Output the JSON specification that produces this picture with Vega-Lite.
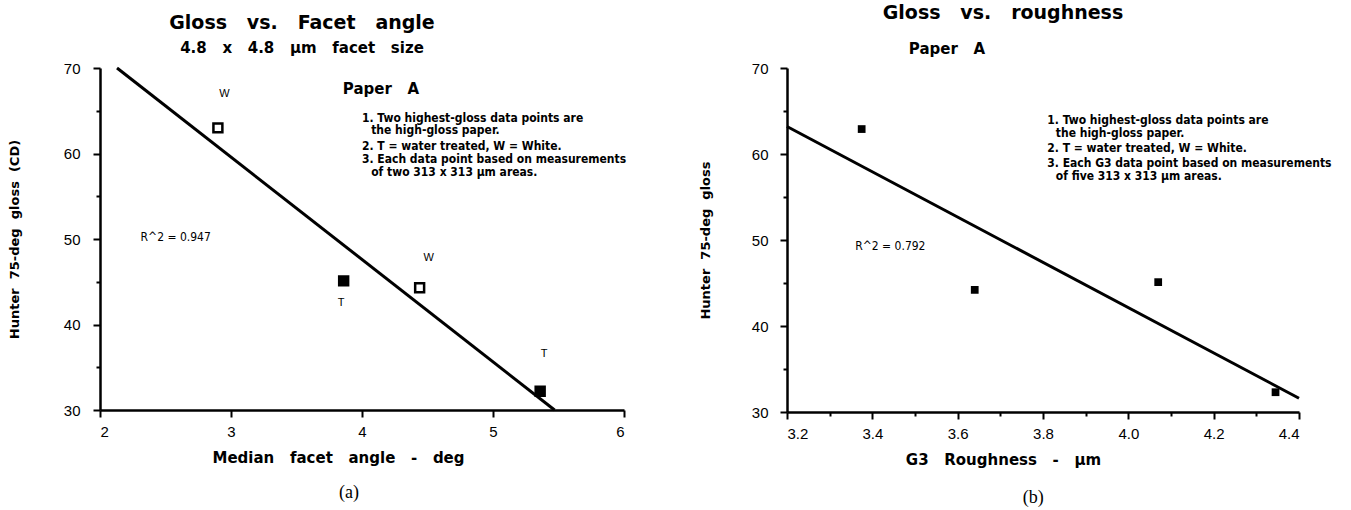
{
  "$schema": "https://vega.github.io/schema/vega-lite/v6.json",
  "background": "white",
  "padding": {"left": 8, "top": 4, "right": 5, "bottom": 5},
  "bounds": "flush",
  "spacing": 163,
  "datasets": {
    "ptsA": [
      {"angle": 2.9, "gloss": 63.0, "type": "W"},
      {"angle": 3.86, "gloss": 45.1, "type": "T"},
      {"angle": 4.44, "gloss": 44.3, "type": "W"},
      {"angle": 5.36, "gloss": 32.2, "type": "T"}
    ],
    "fitA": [
      {"angle": 2.13, "gloss": 70.0},
      {"angle": 5.47, "gloss": 30.0}
    ],
    "lblA": [
      {"angle": 2.95, "gloss": 67.0, "text": "W"},
      {"angle": 3.84, "gloss": 42.5, "text": "T"},
      {"angle": 4.51, "gloss": 47.8, "text": "W"},
      {"angle": 5.39, "gloss": 36.5, "text": "T"}
    ],
    "notesA": [
      {"angle": 4.0, "gloss": 64.2, "text": "1. Two highest-gloss data points are"},
      {"angle": 4.07, "gloss": 62.7, "text": "the high-gloss paper."},
      {"angle": 4.0, "gloss": 60.9, "text": "2. T = water treated, W = White."},
      {"angle": 4.0, "gloss": 59.3, "text": "3. Each data point based on measurements"},
      {"angle": 4.07, "gloss": 57.8, "text": "of two 313 x 313 μm areas."}
    ],
    "paperA": [{"angle": 4.145, "gloss": 67.6, "text": "Paper\u00a0\u00a0 A"}],
    "r2A": [{"angle": 2.31, "gloss": 50.2, "text": "R^2 = 0.947"}],
    "capA": [{"angle": 3.9, "gloss": 20.3, "text": "(a)"}],
    "ptsB": [
      {"rough": 3.375, "gloss": 62.9},
      {"rough": 3.64, "gloss": 44.2},
      {"rough": 4.07, "gloss": 45.1},
      {"rough": 4.345, "gloss": 32.3}
    ],
    "fitB": [
      {"rough": 3.2, "gloss": 63.2},
      {"rough": 4.4, "gloss": 31.6}
    ],
    "notesB": [
      {"rough": 3.81, "gloss": 64.0, "text": "1. Two highest-gloss data points are"},
      {"rough": 3.83, "gloss": 62.4, "text": "the high-gloss paper."},
      {"rough": 3.81, "gloss": 60.7, "text": "2. T = water treated, W = White."},
      {"rough": 3.81, "gloss": 59.0, "text": "3. Each G3 data point based on measurements"},
      {"rough": 3.83, "gloss": 57.4, "text": "of five 313 x 313 μm areas."}
    ],
    "paperB": [{"rough": 3.575, "gloss": 72.2, "text": "Paper\u00a0\u00a0 A"}],
    "r2B": [{"rough": 3.36, "gloss": 49.3, "text": "R^2 = 0.792"}],
    "capB": [{"rough": 3.777, "gloss": 20.0, "text": "(b)"}]
  },
  "config": {
    "view": {"stroke": null},
    "title": {
      "font": "DejaVu Sans",
      "fontWeight": "bold",
      "fontSize": 19,
      "color": "black",
      "subtitleFont": "DejaVu Sans",
      "subtitleFontWeight": "bold",
      "subtitleFontSize": 15,
      "subtitleColor": "black",
      "subtitlePadding": 8
    }
  },
  "hconcat": [
    {
      "width": 524,
      "height": 342,
      "title": {
        "text": "Gloss\u00a0\u00a0 vs.\u00a0\u00a0 Facet\u00a0\u00a0 angle",
        "subtitle": "4.8\u00a0\u00a0 x\u00a0\u00a0 4.8\u00a0\u00a0 μm\u00a0\u00a0 facet\u00a0\u00a0 size",
        "dx": -60,
        "offset": 5
      },
      "layer": [
        {
          "data": {"name": "fitA"},
          "mark": {"type": "line", "color": "black", "strokeWidth": 3},
          "encoding": {
            "x": {
              "field": "angle", "type": "quantitative",
              "scale": {"domain": [2, 6], "nice": false, "zero": false},
              "axis": {
                "title": "Median\u00a0\u00a0 facet\u00a0\u00a0 angle\u00a0\u00a0 -\u00a0\u00a0 deg",
                "values": [2, 2.5, 3, 3.5, 4, 4.5, 5, 5.5, 6],
                "format": "d",
                "labelExpr": "datum.value % 1 === 0 ? datum.label : ''",
                "domain": true, "domainColor": "black", "domainWidth": 2.5,
                "ticks": true, "tickColor": "black", "tickWidth": 2,
                "tickSize": {"condition": {"test": "datum.value % 1 !== 0", "value": 4}, "value": 7},
                "grid": false,
                "labelFont": "Liberation Sans", "labelFontSize": 15, "labelColor": "black",
                "labelPadding": 7,
                "titleFont": "DejaVu Sans", "titleFontWeight": "bold", "titleFontSize": 15, "titleColor": "black",
                "titlePadding": 11,
                "titleX": 238
              }
            },
            "y": {
              "field": "gloss", "type": "quantitative",
              "scale": {"domain": [30, 70], "nice": false, "zero": false},
              "axis": {
                "title": "Hunter\u00a0 75-deg\u00a0 gloss\u00a0 (CD)",
                "values": [30, 35, 40, 45, 50, 55, 60, 65, 70],
                "format": "d",
                "labelExpr": "datum.value % 10 === 0 ? datum.label : ''",
                "domain": true, "domainColor": "black", "domainWidth": 2.5,
                "ticks": true, "tickColor": "black", "tickWidth": 2,
                "tickSize": {"condition": {"test": "datum.value % 10 !== 0", "value": 4}, "value": 7},
                "grid": false,
                "labelFont": "Liberation Sans", "labelFontSize": 15, "labelColor": "black",
                "labelPadding": 13,
                "titleFont": "DejaVu Sans", "titleFontWeight": "bold", "titleFontSize": 13, "titleColor": "black",
                "titlePadding": 42
              }
            }
          }
        },
        {
          "data": {"name": "ptsA"},
          "mark": {"type": "point", "shape": "square", "filled": true, "size": 80, "stroke": "black", "strokeWidth": 2.5, "opacity": 1},
          "encoding": {
            "x": {"field": "angle", "type": "quantitative"},
            "y": {"field": "gloss", "type": "quantitative"},
            "fill": {"field": "type", "type": "nominal", "scale": {"domain": ["W", "T"], "range": ["white", "black"]}, "legend": null}
          }
        },
        {
          "data": {"name": "lblA"},
          "mark": {"type": "text", "font": "Liberation Sans", "fontSize": 11, "fill": "black"},
          "encoding": {
            "x": {"field": "angle", "type": "quantitative"},
            "y": {"field": "gloss", "type": "quantitative"},
            "text": {"field": "text"}
          }
        },
        {
          "data": {"name": "notesA"},
          "mark": {"type": "text", "font": "DejaVu Sans Condensed, Liberation Sans", "fontSize": 12, "fontWeight": "bold", "align": "left", "fill": "black"},
          "encoding": {
            "x": {"field": "angle", "type": "quantitative"},
            "y": {"field": "gloss", "type": "quantitative"},
            "text": {"field": "text"}
          }
        },
        {
          "data": {"name": "paperA"},
          "mark": {"type": "text", "font": "DejaVu Sans", "fontSize": 15, "fontWeight": "bold", "fill": "black"},
          "encoding": {
            "x": {"field": "angle", "type": "quantitative"},
            "y": {"field": "gloss", "type": "quantitative"},
            "text": {"field": "text"}
          }
        },
        {
          "data": {"name": "r2A"},
          "mark": {"type": "text", "font": "DejaVu Sans Condensed, Liberation Sans", "fontSize": 12, "align": "left", "fill": "black"},
          "encoding": {
            "x": {"field": "angle", "type": "quantitative"},
            "y": {"field": "gloss", "type": "quantitative"},
            "text": {"field": "text"}
          }
        },
        {
          "data": {"name": "capA"},
          "mark": {"type": "text", "font": "Liberation Serif", "fontSize": 18, "fill": "black"},
          "encoding": {
            "x": {"field": "angle", "type": "quantitative"},
            "y": {"field": "gloss", "type": "quantitative"},
            "text": {"field": "text"}
          }
        }
      ]
    },
    {
      "width": 512,
      "height": 344,
      "title": {"text": "Gloss\u00a0\u00a0 vs.\u00a0\u00a0 roughness", "dx": -40, "offset": 19},
      "layer": [
        {
          "data": {"name": "fitB"},
          "mark": {"type": "line", "color": "black", "strokeWidth": 3},
          "encoding": {
            "x": {
              "field": "rough", "type": "quantitative",
              "scale": {"domain": [3.2, 4.4], "nice": false, "zero": false},
              "axis": {
                "title": "G3\u00a0\u00a0 Roughness\u00a0\u00a0 -\u00a0\u00a0 μm",
                "values": [3.2, 3.3, 3.4, 3.5, 3.6, 3.7, 3.8, 3.9, 4.0, 4.1, 4.2, 4.3, 4.4],
                "format": ".1f",
                "labelExpr": "round(datum.value * 10) % 2 === 0 ? datum.label : ''",
                "domain": true, "domainColor": "black", "domainWidth": 2.5,
                "ticks": true, "tickColor": "black", "tickWidth": 2,
                "tickSize": {"condition": {"test": "round(datum.value * 10) % 2 === 1", "value": 4}, "value": 7},
                "grid": false,
                "labelFont": "Liberation Sans", "labelFontSize": 15, "labelColor": "black",
                "labelPadding": 7,
                "titleFont": "DejaVu Sans", "titleFontWeight": "bold", "titleFontSize": 15, "titleColor": "black",
                "titlePadding": 11,
                "titleX": 216
              }
            },
            "y": {
              "field": "gloss", "type": "quantitative",
              "scale": {"domain": [30, 70], "nice": false, "zero": false},
              "axis": {
                "title": "Hunter\u00a0 75-deg\u00a0 gloss",
                "values": [30, 35, 40, 45, 50, 55, 60, 65, 70],
                "format": "d",
                "labelExpr": "datum.value % 10 === 0 ? datum.label : ''",
                "domain": true, "domainColor": "black", "domainWidth": 2.5,
                "ticks": true, "tickColor": "black", "tickWidth": 2,
                "tickSize": {"condition": {"test": "datum.value % 10 !== 0", "value": 4}, "value": 7},
                "grid": false,
                "labelFont": "Liberation Sans", "labelFontSize": 15, "labelColor": "black",
                "labelPadding": 12,
                "titleFont": "DejaVu Sans", "titleFontWeight": "bold", "titleFontSize": 13, "titleColor": "black",
                "titlePadding": 39
              }
            }
          }
        },
        {
          "data": {"name": "ptsB"},
          "mark": {"type": "point", "shape": "square", "filled": true, "size": 60, "color": "black", "opacity": 1},
          "encoding": {
            "x": {"field": "rough", "type": "quantitative"},
            "y": {"field": "gloss", "type": "quantitative"}
          }
        },
        {
          "data": {"name": "notesB"},
          "mark": {"type": "text", "font": "DejaVu Sans Condensed, Liberation Sans", "fontSize": 12, "fontWeight": "bold", "align": "left", "fill": "black"},
          "encoding": {
            "x": {"field": "rough", "type": "quantitative"},
            "y": {"field": "gloss", "type": "quantitative"},
            "text": {"field": "text"}
          }
        },
        {
          "data": {"name": "paperB"},
          "mark": {"type": "text", "font": "DejaVu Sans", "fontSize": 15, "fontWeight": "bold", "fill": "black"},
          "encoding": {
            "x": {"field": "rough", "type": "quantitative"},
            "y": {"field": "gloss", "type": "quantitative"},
            "text": {"field": "text"}
          }
        },
        {
          "data": {"name": "r2B"},
          "mark": {"type": "text", "font": "DejaVu Sans Condensed, Liberation Sans", "fontSize": 12, "align": "left", "fill": "black"},
          "encoding": {
            "x": {"field": "rough", "type": "quantitative"},
            "y": {"field": "gloss", "type": "quantitative"},
            "text": {"field": "text"}
          }
        },
        {
          "data": {"name": "capB"},
          "mark": {"type": "text", "font": "Liberation Serif", "fontSize": 18, "fill": "black"},
          "encoding": {
            "x": {"field": "rough", "type": "quantitative"},
            "y": {"field": "gloss", "type": "quantitative"},
            "text": {"field": "text"}
          }
        }
      ]
    }
  ]
}
